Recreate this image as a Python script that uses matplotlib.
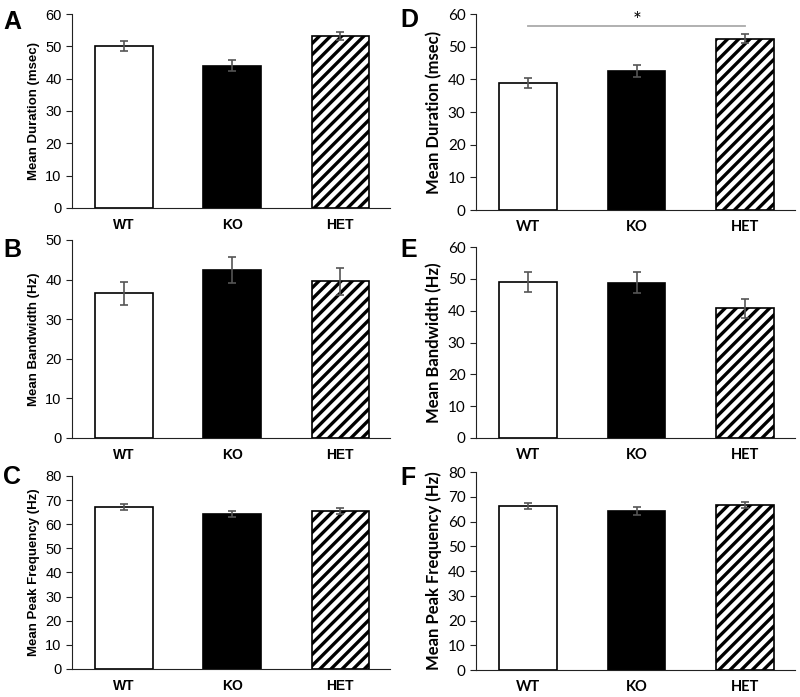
import matplotlib.pyplot as plt
import numpy as np

groups = ["WT", "KO", "HET"]

dur_a = [50.0, 44.0, 53.2]
dur_a_err = [1.5, 1.7, 1.1]
bw_b = [36.5, 42.4, 39.6]
bw_b_err = [3.0, 3.3, 3.4]
pf_c = [67.2, 64.2, 65.5]
pf_c_err = [1.2, 1.1, 1.3]

dur_d = [38.9, 42.5, 52.5]
dur_d_err = [1.5, 1.9, 1.5]
bw_e = [49.0, 48.8, 40.7]
bw_e_err = [3.2, 3.3, 3.1]
pf_f = [66.3, 64.3, 66.6]
pf_f_err = [1.1, 1.5, 1.3]

plt.rcParams['hatch.linewidth'] = 2.4

fig = plt.figure(figsize=(8, 6.97), dpi=100)

# [left, bottom, width, height] in figure fractions, letter, letter pos, data, err, ylabel, ymax, font
panels = [
	([0.09, 0.7016, 0.3975, 0.2783], "A", (0.004, 22), dur_a, dur_a_err, "Mean Duration (msec)", 60, "Liberation Sans"),
	([0.09, 0.3716, 0.3975, 0.2841], "B", (0.004, 250), bw_b, bw_b_err, "Mean Bandwidth (Hz)", 50, "Liberation Sans"),
	([0.09, 0.0402, 0.3975, 0.2769], "C", (0.004, 477), pf_c, pf_c_err, "Mean Peak Frequency (Hz)", 80, "Liberation Sans"),
	([0.595, 0.6987, 0.399, 0.2812], "D", (0.5, 20), dur_d, dur_d_err, "Mean Duration (msec)", 60, "Lato"),
	([0.595, 0.3716, 0.399, 0.2740], "E", (0.5, 250), bw_e, bw_e_err, "Mean Bandwidth (Hz)", 60, "Lato"),
	([0.595, 0.0387, 0.399, 0.2841], "F", (0.5, 478), pf_f, pf_f_err, "Mean Peak Frequency (Hz)", 80, "Lato"),
]

x = np.arange(len(groups))
for rect, letter, lpos, vals, errs, ylab, ymax, fam in panels:
	ax = fig.add_axes(rect)
	faces = ["white", "black", "white"]
	hatches = [None, None, "///"]
	for i in range(3):
		ax.bar(
			x[i], vals[i],
			width = 0.53,
			color = faces[i],
			edgecolor = "black",
			linewidth = 1.2,
			hatch = hatches[i],
			zorder = 2
		)
	ax.errorbar(
		x, vals, yerr = errs,
		fmt = "none",
		ecolor = "#555555",
		elinewidth = 1.2,
		capsize = 3,
		capthick = 1.2,
		zorder = 3
	)
	ax.set_xlim(-0.48, 2.46)
	ax.set_ylim(0, ymax)
	ax.set_yticks(np.arange(0, ymax + 1, 10))
	ax.spines['top'].set_visible(False)
	ax.spines['right'].set_visible(False)
	ax.spines['left'].set_color("#222222")
	ax.spines['bottom'].set_color("#222222")
	ax.tick_params(axis = "x", length = 0, pad = 7)
	ax.tick_params(axis = "y", length = 4, color = "#222222", labelsize = 10.5 if fam == "Liberation Sans" else 11)
	ax.set_xticks(x)
	ax.set_xticklabels(groups, fontweight = "bold", fontsize = 10 if fam == "Liberation Sans" else 10.5, family = fam)
	for t in ax.get_yticklabels():
		t.set_family(fam)
	ax.set_ylabel(ylab, fontweight = "bold", fontsize = 9.5 if fam == "Liberation Sans" else 12, family = fam)
	fig.text(
		lpos[0], 1 - lpos[1] / 697, letter,
		fontsize = 18, fontweight = "bold",
		family = "Liberation Sans",
		ha = "left", va = "center"
	)

	if letter == "D":
		ax.plot([x[0], x[2]], [56.3, 56.3], color = "#aaaaaa", linewidth = 1.3, zorder = 1)
		ax.text((x[0] + x[2]) / 2, 58.0, "*", ha = "center", va = "center", fontsize = 15, family = fam)

fig.savefig("out.png", dpi = 100)
